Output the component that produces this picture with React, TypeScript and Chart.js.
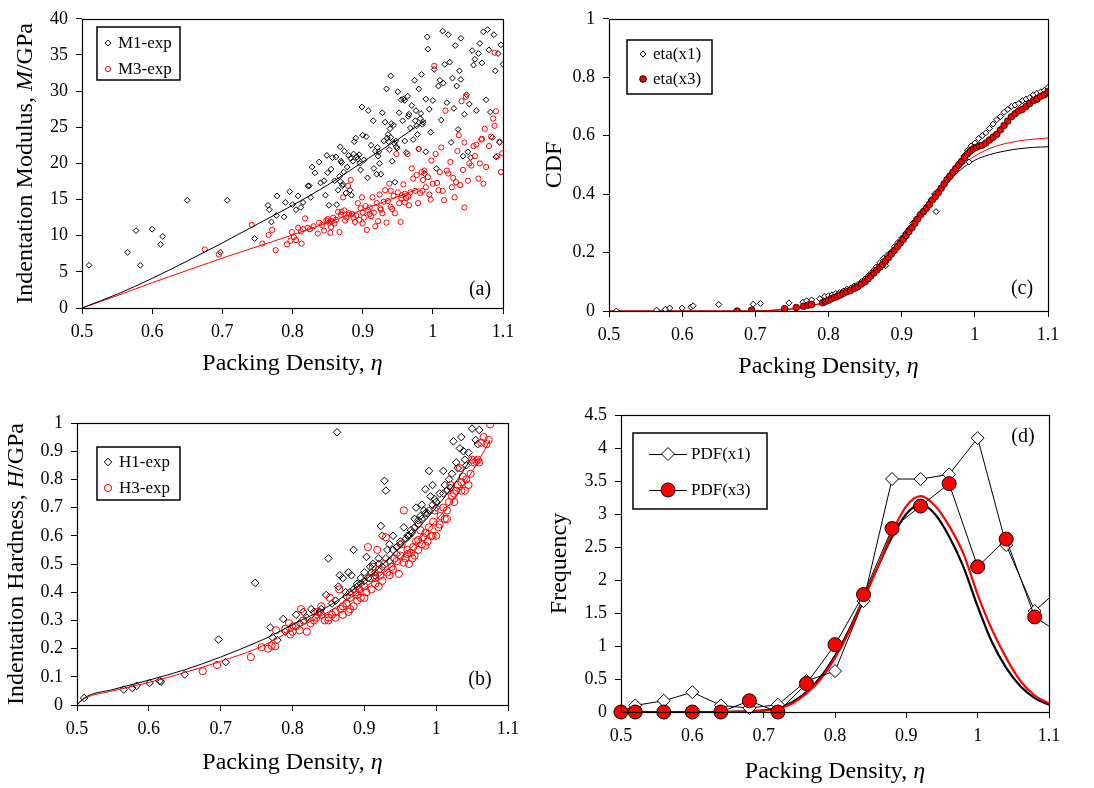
import React, { useEffect, useRef } from 'react';
import { Chart, registerables } from 'chart.js';
Chart.register(...registerables);

const FONT = '"Liberation Serif", "Times New Roman", serif';
type P = [number, number];

// ---------- shared ticks ----------
const xTicks = [0.5, 0.6, 0.7, 0.8, 0.9, 1.0, 1.1];
const xTickLabels = ['0.5', '0.6', '0.7', '0.8', '0.9', '1', '1.1'];
const yTicksA = [0, 5, 10, 15, 20, 25, 30, 35, 40];
const yLabelsA = ['0', '5', '10', '15', '20', '25', '30', '35', '40'];
const yTicksB = [0, 0.1, 0.2, 0.3, 0.4, 0.5, 0.6, 0.7, 0.8, 0.9, 1];
const yLabelsB = ['0', '0.1', '0.2', '0.3', '0.4', '0.5', '0.6', '0.7', '0.8', '0.9', '1'];
const yTicksC = [0, 0.2, 0.4, 0.6, 0.8, 1];
const yLabelsC = ['0', '0.2', '0.4', '0.6', '0.8', '1'];
const yTicksD = [0, 0.5, 1, 1.5, 2, 2.5, 3, 3.5, 4, 4.5];
const yLabelsD = ['0', '0.5', '1', '1.5', '2', '2.5', '3', '3.5', '4', '4.5'];

// ---------- (a) indentation modulus ----------
const m1Exp: P[] = [
  [0.51, 5.9], [0.565, 7.7], [0.577, 10.7], [0.583, 5.9], [0.6, 10.9], [0.612, 8.8], [0.615, 9.9], [0.65, 14.9],
  [0.697, 7.7], [0.707, 14.9], [0.746, 9.6], [0.765, 14.2], [0.767, 13.6], [0.77, 11.9], [0.777, 12.8], [0.778, 15.5],
  [0.788, 12.6], [0.79, 14.6], [0.796, 16.1], [0.8, 14.3], [0.805, 13.6], [0.808, 15.5], [0.812, 13.9], [0.815, 14.6],
  [0.822, 16.9], [0.824, 16.9], [0.826, 15.3], [0.828, 19.5], [0.832, 18.7], [0.838, 20.2], [0.84, 17.3], [0.845, 17.6],
  [0.847, 15.6], [0.849, 21.1], [0.85, 18.7], [0.852, 14.2], [0.855, 19.2], [0.857, 20.8], [0.86, 17.6], [0.863, 14.3],
  [0.865, 16.3], [0.867, 18.2], [0.868, 22.3], [0.87, 20.1], [0.872, 17.1], [0.874, 21.7], [0.876, 15.9], [0.878, 19.5],
  [0.88, 21.1], [0.882, 16.3], [0.884, 15.6], [0.886, 20.3], [0.888, 23.0], [0.89, 23.5], [0.892, 20.9], [0.895, 21.2],
  [0.897, 19.1], [0.899, 27.8], [0.9, 23.9], [0.902, 20.5], [0.905, 23.7], [0.907, 18.0], [0.908, 27.3], [0.912, 22.5],
  [0.915, 25.9], [0.916, 19.3], [0.918, 21.7], [0.92, 18.5], [0.922, 21.0], [0.924, 20.0], [0.926, 18.5], [0.928, 27.0],
  [0.93, 23.1], [0.932, 25.7], [0.934, 30.3], [0.936, 24.0], [0.938, 21.9], [0.94, 32.1], [0.94, 23.6], [0.942, 20.3],
  [0.944, 25.3], [0.946, 17.4], [0.948, 22.3], [0.95, 29.9], [0.952, 27.0], [0.955, 28.8], [0.957, 25.9], [0.96, 23.1],
  [0.962, 21.5], [0.964, 29.3], [0.966, 26.8], [0.968, 24.9], [0.97, 28.0], [0.972, 23.3], [0.974, 31.5], [0.976, 27.3],
  [0.978, 24.0], [0.98, 22.0], [0.98, 30.3], [0.982, 26.2], [0.984, 32.3], [0.986, 25.7], [0.988, 18.6], [0.99, 28.9],
  [0.99, 21.6], [0.992, 37.5], [0.993, 35.8], [0.995, 27.5], [0.997, 24.3], [1.0, 28.7], [1.002, 33.0], [1.005, 19.3],
  [1.008, 30.7], [1.01, 31.5], [1.012, 26.0], [1.014, 38.3], [1.015, 31.1], [1.017, 33.7], [1.02, 28.4], [1.022, 37.8],
  [1.024, 34.0], [1.026, 22.9], [1.028, 31.8], [1.03, 27.6], [1.032, 36.3], [1.034, 30.7], [1.036, 24.7], [1.038, 32.8],
  [1.04, 37.3], [1.04, 31.6], [1.043, 21.0], [1.045, 26.8], [1.048, 29.5], [1.05, 21.6], [1.052, 28.2], [1.054, 20.8],
  [1.056, 35.6], [1.058, 33.6], [1.06, 34.4], [1.062, 27.3], [1.065, 35.2], [1.067, 36.6], [1.07, 33.9], [1.072, 38.2],
  [1.076, 28.8], [1.078, 38.5], [1.08, 35.7], [1.082, 27.1], [1.085, 23.6], [1.087, 37.8], [1.089, 32.8], [1.09, 20.9],
  [1.093, 35.2], [1.095, 22.9], [1.097, 36.4], [1.1, 33.7],
  [0.883, 20.7], [0.887, 21.3], [0.893, 20.6], [0.896, 20.0], [0.921, 22.2], [0.923, 21.6], [0.945, 22.8], [0.947, 23.1],
  [0.949, 22.1], [0.975, 25.9], [0.977, 25.2], [0.983, 26.9], [0.985, 25.4], [0.958, 28.9], [0.96, 28.7], [0.965, 26.5],
  [0.935, 23.5], [0.937, 23.0], [0.939, 24.8], [0.941, 25.5], [0.868, 17.5], [0.871, 16.9], [0.873, 18.8], [0.862, 20.9],
  [0.869, 20.3],
];
const m3Exp: P[] = [
  [0.675, 8.1], [0.695, 7.4], [0.742, 11.5], [0.757, 8.9], [0.766, 10.1], [0.771, 10.8], [0.776, 8.0], [0.792, 8.8],
  [0.797, 9.3], [0.799, 10.5], [0.802, 9.8], [0.805, 9.4], [0.808, 11.1], [0.812, 10.6], [0.813, 8.9], [0.815, 10.9],
  [0.818, 12.4], [0.822, 11.1], [0.825, 10.9], [0.83, 11.3], [0.836, 10.3], [0.838, 11.8], [0.842, 11.5], [0.845, 10.7],
  [0.848, 12.1], [0.85, 12.3], [0.852, 11.8], [0.854, 10.4], [0.856, 12.0], [0.858, 12.5], [0.86, 11.7], [0.862, 12.2],
  [0.865, 13.3], [0.867, 10.5], [0.869, 12.9], [0.872, 15.3], [0.874, 13.5], [0.877, 12.5], [0.879, 16.9], [0.881, 13.1],
  [0.883, 17.7], [0.885, 13.0], [0.887, 12.5], [0.889, 11.9], [0.891, 12.8], [0.893, 14.5], [0.895, 12.2], [0.897, 13.8],
  [0.899, 15.3], [0.9, 13.2], [0.902, 12.5], [0.904, 14.1], [0.906, 10.8], [0.908, 13.5], [0.91, 13.9], [0.912, 12.7],
  [0.914, 15.3], [0.916, 13.2], [0.918, 11.3], [0.92, 14.5], [0.922, 12.0], [0.924, 15.7], [0.926, 13.6], [0.928, 13.1],
  [0.93, 14.7], [0.932, 16.3], [0.934, 11.8], [0.936, 14.8], [0.938, 17.2], [0.94, 16.2], [0.942, 13.7], [0.944, 15.5],
  [0.946, 13.1], [0.948, 21.3], [0.95, 16.0], [0.952, 14.5], [0.954, 11.9], [0.956, 15.6], [0.958, 17.1], [0.96, 14.6],
  [0.962, 15.2], [0.964, 21.3], [0.966, 14.2], [0.968, 16.0], [0.97, 19.3], [0.972, 17.9], [0.975, 16.2], [0.977, 18.4],
  [0.979, 14.5], [0.98, 22.0], [0.982, 15.9], [0.984, 18.8], [0.986, 17.7], [0.988, 19.0], [0.99, 16.7], [0.993, 18.1],
  [0.995, 15.7], [0.997, 15.0], [0.998, 20.4], [1.0, 17.2], [1.002, 33.5], [1.004, 21.3], [1.006, 17.3], [1.008, 16.3],
  [1.01, 18.8], [1.012, 22.2], [1.014, 16.2], [1.016, 14.9], [1.018, 27.3], [1.02, 19.0], [1.022, 18.6], [1.025, 20.2],
  [1.027, 16.7], [1.029, 18.0], [1.031, 15.3], [1.033, 17.4], [1.035, 21.7], [1.037, 23.9], [1.039, 17.0], [1.041, 28.6],
  [1.043, 19.1], [1.045, 22.9], [1.047, 29.2], [1.05, 17.6], [1.052, 20.0], [1.055, 19.7], [1.058, 22.4], [1.06, 21.0],
  [1.065, 17.9], [1.067, 20.0], [1.069, 23.3], [1.072, 17.2], [1.074, 24.8], [1.076, 19.5], [1.08, 22.4], [1.083, 23.7],
  [1.086, 26.2], [1.088, 25.2], [1.09, 27.2], [1.092, 21.0], [1.095, 23.0], [1.097, 18.8], [1.099, 21.4], [1.088, 35.3],
  [1.045, 13.9], [1.062, 22.6], [1.07, 23.4], [0.87, 13.3], [0.875, 12.1], [0.88, 12.9], [0.9, 11.7], [0.91, 13.0],
  [0.925, 13.8], [0.94, 14.0], [0.955, 15.2], [0.96, 15.8], [0.965, 15.4], [0.985, 16.2], [0.855, 11.2], [0.85, 12.0],
];
const m1Fit: P[] = [[0.5, 0], [0.55, 1.9], [0.6, 4.1], [0.65, 6.5], [0.7, 9.0], [0.75, 11.6], [0.8, 14.2], [0.85, 17.0], [0.9, 20.2], [0.95, 23.3], [0.99, 26.0]];
const m3Fit: P[] = [[0.5, 0], [0.55, 1.7], [0.6, 3.5], [0.65, 5.2], [0.7, 6.9], [0.75, 8.5], [0.8, 10.1], [0.85, 11.8], [0.9, 13.6], [0.95, 15.4], [0.98, 16.5]];

// ---------- (b) indentation hardness ----------
const h1Exp: P[] = [
  [0.51, 0.025], [0.565, 0.055], [0.577, 0.06], [0.583, 0.068], [0.601, 0.078], [0.615, 0.085], [0.617, 0.083], [0.65, 0.108],
  [0.697, 0.232], [0.707, 0.152], [0.748, 0.433], [0.769, 0.275], [0.772, 0.24], [0.779, 0.23], [0.787, 0.305], [0.805, 0.32],
  [0.815, 0.33], [0.826, 0.34], [0.838, 0.33], [0.847, 0.39], [0.85, 0.52], [0.855, 0.36], [0.862, 0.967], [0.864, 0.42],
  [0.866, 0.46], [0.87, 0.45], [0.874, 0.4], [0.878, 0.47], [0.882, 0.46], [0.885, 0.55], [0.89, 0.43], [0.895, 0.45],
  [0.9, 0.47], [0.903, 0.525], [0.908, 0.49], [0.912, 0.5], [0.915, 0.47], [0.92, 0.52], [0.923, 0.635], [0.925, 0.6],
  [0.928, 0.795], [0.93, 0.76], [0.932, 0.55], [0.935, 0.57], [0.94, 0.6], [0.945, 0.56], [0.95, 0.58], [0.955, 0.63],
  [0.958, 0.59], [0.962, 0.6], [0.966, 0.61], [0.97, 0.66], [0.972, 0.7], [0.975, 0.64], [0.978, 0.67], [0.98, 0.71],
  [0.983, 0.69], [0.985, 0.765], [0.988, 0.68], [0.99, 0.83], [0.992, 0.74], [0.995, 0.78], [0.998, 0.73], [1.0, 0.7],
  [1.005, 0.75], [1.01, 0.83], [1.012, 0.78], [1.015, 0.76], [1.018, 0.8], [1.022, 0.82], [1.024, 0.935], [1.028, 0.86],
  [1.03, 0.84], [1.033, 0.91], [1.035, 0.95], [1.038, 0.9], [1.04, 0.87], [1.042, 0.85], [1.045, 0.895], [1.05, 0.98],
  [1.055, 0.94], [1.058, 0.925], [1.06, 0.975],
  [0.86, 0.37], [0.875, 0.385], [0.88, 0.4], [0.89, 0.42], [0.9, 0.44], [0.91, 0.47], [0.92, 0.5], [0.93, 0.52],
  [0.94, 0.55], [0.95, 0.57], [0.96, 0.6], [0.97, 0.63], [0.98, 0.66], [0.985, 0.68], [0.99, 0.69], [0.995, 0.71],
  [1.0, 0.72], [1.01, 0.75], [1.02, 0.77], [0.965, 0.62], [0.975, 0.655], [0.945, 0.535], [0.935, 0.51], [0.925, 0.49],
  [0.915, 0.46], [0.905, 0.45], [0.895, 0.43], [0.885, 0.41], [0.84, 0.34], [0.83, 0.33], [0.82, 0.31], [0.81, 0.29],
  [0.8, 0.28], [0.79, 0.26],
];
const h3Exp: P[] = [
  [0.675, 0.12], [0.695, 0.142], [0.742, 0.17], [0.757, 0.205], [0.766, 0.2], [0.771, 0.21], [0.776, 0.208], [0.777, 0.265],
  [0.79, 0.27], [0.795, 0.29], [0.797, 0.25], [0.8, 0.26], [0.805, 0.28], [0.81, 0.265], [0.812, 0.34], [0.815, 0.3],
  [0.82, 0.26], [0.825, 0.29], [0.83, 0.3], [0.835, 0.33], [0.84, 0.32], [0.845, 0.3], [0.85, 0.31], [0.852, 0.38],
  [0.855, 0.32], [0.86, 0.33], [0.865, 0.41], [0.867, 0.34], [0.87, 0.35], [0.875, 0.36], [0.878, 0.33], [0.88, 0.38],
  [0.885, 0.35], [0.888, 0.4], [0.89, 0.39], [0.893, 0.41], [0.895, 0.38], [0.9, 0.42], [0.903, 0.4], [0.905, 0.56],
  [0.908, 0.45], [0.91, 0.41], [0.912, 0.49], [0.915, 0.43], [0.918, 0.55], [0.92, 0.42], [0.922, 0.46], [0.925, 0.44],
  [0.928, 0.5], [0.93, 0.595], [0.932, 0.47], [0.935, 0.46], [0.938, 0.49], [0.94, 0.48], [0.942, 0.52], [0.945, 0.51],
  [0.948, 0.465], [0.95, 0.53], [0.952, 0.57], [0.955, 0.69], [0.957, 0.52], [0.96, 0.55], [0.962, 0.5], [0.965, 0.54],
  [0.968, 0.56], [0.97, 0.53], [0.972, 0.58], [0.975, 0.55], [0.978, 0.62], [0.98, 0.57], [0.982, 0.595], [0.985, 0.61],
  [0.988, 0.58], [0.99, 0.63], [0.993, 0.6], [0.996, 0.65], [0.998, 0.69], [1.0, 0.6], [1.003, 0.63], [1.006, 0.67],
  [1.01, 0.7], [1.012, 0.66], [1.015, 0.69], [1.018, 0.72], [1.02, 0.78], [1.022, 0.74], [1.025, 0.72], [1.028, 0.76],
  [1.03, 0.78], [1.033, 0.84], [1.035, 0.79], [1.037, 0.81], [1.04, 0.76], [1.042, 0.8], [1.045, 0.78], [1.048, 0.82],
  [1.05, 0.87], [1.053, 0.86], [1.056, 0.865], [1.06, 0.86], [1.063, 0.93], [1.066, 0.95], [1.07, 0.925], [1.073, 0.94],
  [1.075, 0.995], [1.058, 0.87], [0.955, 0.505], [0.96, 0.535], [0.967, 0.52], [0.975, 0.585], [0.985, 0.565], [0.995, 0.6],
  [1.005, 0.64], [1.015, 0.66], [1.025, 0.75], [1.035, 0.76], [0.92, 0.48], [0.915, 0.45], [0.9, 0.38], [0.89, 0.37],
  [0.88, 0.34], [0.87, 0.32], [0.86, 0.31], [0.85, 0.3], [0.84, 0.35], [0.833, 0.31],
];
const h1Fit: P[] = [[0.5, 0], [0.51, 0.025], [0.55, 0.055], [0.6, 0.088], [0.65, 0.125], [0.7, 0.17], [0.75, 0.222], [0.77, 0.245], [0.8, 0.285], [0.85, 0.35], [0.9, 0.44], [0.95, 0.56], [1.0, 0.7], [1.03, 0.8], [1.05, 0.88]];
const h3Fit: P[] = [[0.5, 0], [0.51, 0.022], [0.55, 0.05], [0.6, 0.08], [0.65, 0.115], [0.7, 0.155], [0.75, 0.2], [0.8, 0.265], [0.85, 0.33], [0.9, 0.415], [0.95, 0.52], [1.0, 0.655], [1.03, 0.75], [1.06, 0.87], [1.075, 0.94]];

// ---------- (c) CDF ----------
const cdfX1: P[] = [
  [0.51, 0.0], [0.565, 0.003], [0.577, 0.006], [0.583, 0.01], [0.6, 0.01], [0.612, 0.013], [0.615, 0.018], [0.65, 0.022],
  [0.697, 0.023], [0.707, 0.026], [0.746, 0.028], [0.765, 0.03], [0.77, 0.035], [0.777, 0.038], [0.788, 0.042], [0.795, 0.05],
  [0.8, 0.052], [0.805, 0.055], [0.81, 0.06], [0.815, 0.063], [0.82, 0.068], [0.825, 0.075], [0.83, 0.078], [0.835, 0.085],
  [0.84, 0.09], [0.845, 0.1], [0.85, 0.11], [0.855, 0.122], [0.86, 0.135], [0.865, 0.15], [0.87, 0.165], [0.875, 0.18],
  [0.878, 0.155], [0.88, 0.19], [0.885, 0.2], [0.89, 0.22], [0.895, 0.235], [0.9, 0.25], [0.905, 0.265], [0.91, 0.28],
  [0.915, 0.3], [0.92, 0.315], [0.925, 0.33], [0.93, 0.345], [0.935, 0.36], [0.94, 0.38], [0.945, 0.4], [0.947, 0.34],
  [0.95, 0.41], [0.955, 0.425], [0.96, 0.44], [0.965, 0.455], [0.97, 0.47], [0.975, 0.49], [0.98, 0.51], [0.985, 0.53],
  [0.99, 0.55], [0.992, 0.51], [0.995, 0.565], [1.0, 0.575], [1.005, 0.59], [1.01, 0.6], [1.015, 0.61], [1.02, 0.625],
  [1.025, 0.64], [1.03, 0.655], [1.035, 0.665], [1.04, 0.68], [1.045, 0.69], [1.05, 0.7], [1.055, 0.705], [1.06, 0.71],
  [1.065, 0.72], [1.07, 0.725], [1.075, 0.73], [1.08, 0.74], [1.085, 0.745], [1.09, 0.75], [1.095, 0.755], [1.1, 0.765],
];
const cdfX3: P[] = [
  [0.675, 0.0], [0.695, 0.003], [0.74, 0.008], [0.756, 0.012], [0.766, 0.016], [0.772, 0.02], [0.777, 0.022], [0.792, 0.028],
  [0.796, 0.033], [0.8, 0.037], [0.804, 0.042], [0.808, 0.046], [0.812, 0.05], [0.816, 0.055], [0.82, 0.06], [0.825, 0.066],
  [0.83, 0.07], [0.836, 0.078], [0.84, 0.083], [0.845, 0.092], [0.85, 0.1], [0.854, 0.11], [0.858, 0.12], [0.862, 0.13],
  [0.866, 0.14], [0.87, 0.15], [0.874, 0.16], [0.878, 0.172], [0.882, 0.183], [0.886, 0.195], [0.89, 0.207], [0.894, 0.22],
  [0.898, 0.232], [0.902, 0.245], [0.906, 0.258], [0.91, 0.272], [0.914, 0.285], [0.918, 0.3], [0.922, 0.315], [0.926, 0.33],
  [0.93, 0.34], [0.934, 0.352], [0.938, 0.365], [0.942, 0.38], [0.946, 0.392], [0.95, 0.405], [0.954, 0.42], [0.958, 0.435],
  [0.962, 0.45], [0.966, 0.462], [0.97, 0.475], [0.974, 0.488], [0.978, 0.5], [0.982, 0.512], [0.986, 0.525], [0.99, 0.538],
  [0.994, 0.548], [0.998, 0.555], [1.002, 0.56], [1.006, 0.565], [1.01, 0.567], [1.015, 0.575], [1.02, 0.585], [1.025, 0.595],
  [1.03, 0.605], [1.035, 0.62], [1.04, 0.635], [1.045, 0.65], [1.05, 0.665], [1.055, 0.675], [1.06, 0.685], [1.065, 0.69],
  [1.07, 0.7], [1.075, 0.71], [1.08, 0.72], [1.085, 0.725], [1.09, 0.735], [1.095, 0.74], [1.1, 0.75],
];
const cdfFit1: P[] = [[0.5, 0], [0.6, 0], [0.7, 0], [0.72, 0.002], [0.74, 0.005], [0.76, 0.01], [0.78, 0.02], [0.8, 0.033], [0.82, 0.052], [0.84, 0.08], [0.86, 0.118], [0.88, 0.168], [0.9, 0.232], [0.92, 0.3], [0.94, 0.37], [0.96, 0.43], [0.98, 0.482], [1.0, 0.516], [1.02, 0.535], [1.04, 0.547], [1.06, 0.555], [1.08, 0.56], [1.1, 0.562]];
const cdfFit3: P[] = [[0.5, 0], [0.6, 0], [0.7, 0], [0.72, 0.002], [0.74, 0.005], [0.76, 0.01], [0.78, 0.02], [0.8, 0.033], [0.82, 0.052], [0.84, 0.08], [0.86, 0.118], [0.88, 0.168], [0.9, 0.232], [0.92, 0.3], [0.94, 0.372], [0.96, 0.437], [0.98, 0.492], [1.0, 0.53], [1.02, 0.556], [1.04, 0.572], [1.06, 0.582], [1.08, 0.588], [1.1, 0.592]];

// ---------- (d) PDF ----------
const pdfBins = [0.5, 0.52, 0.56, 0.6, 0.64, 0.68, 0.72, 0.76, 0.8, 0.84, 0.88, 0.92, 0.96, 1.0, 1.04, 1.08, 1.12];
const pdfX1 = [0, 0.1, 0.17, 0.3, 0.1, 0.06, 0.11, 0.47, 0.62, 1.68, 3.53, 3.53, 3.6, 4.15, 2.53, 1.53, 1.92];
const pdfX3 = [0, 0, 0, 0, 0, 0.17, 0, 0.43, 1.02, 1.78, 2.78, 3.12, 3.46, 2.2, 2.62, 1.44, 1.16];
const pdfFitEta = [0.5, 0.52, 0.54, 0.56, 0.58, 0.6, 0.62, 0.64, 0.66, 0.68, 0.7, 0.72, 0.74, 0.76, 0.78, 0.8, 0.82, 0.84, 0.86, 0.88, 0.9, 0.92, 0.94, 0.96, 0.98, 1.0, 1.02, 1.04, 1.06, 1.08, 1.1];
const pdfFit1 = [0, 0, 0, 0, 0, 0, 0, 0, 0.005, 0.01, 0.025, 0.06, 0.15, 0.3, 0.53, 0.85, 1.25, 1.72, 2.2, 2.65, 3.0, 3.15, 3.0, 2.66, 2.2, 1.6, 1.06, 0.67, 0.39, 0.21, 0.11];
const pdfFit3 = [0, 0, 0, 0, 0, 0, 0, 0, 0.003, 0.008, 0.02, 0.05, 0.13, 0.28, 0.5, 0.82, 1.22, 1.7, 2.2, 2.72, 3.12, 3.27, 3.13, 2.82, 2.4, 1.78, 1.25, 0.82, 0.47, 0.25, 0.13];

// ---------- helpers ----------
const pts = (a: P[]) => a.map(([x, y]) => ({ x, y }));
const zip = (xs: number[], ys: number[]) => xs.map((x, i) => ({ x, y: ys[i] }));

type Seg = { t: string; i?: boolean };
type LegendItem = { label: string; y: number; shape: 'diamond' | 'circle'; r: number; fill: string | null; stroke: string; mx: number; tx: number; line?: [number, number] };
type PanelCfg = {
  xTitle: Seg[]; yTitle: Seg[]; yTitleX: number; xTitleDy: number;
  legend: { x: number; y: number; w: number; h: number; items: LegendItem[] };
  tag: { text: string; x: number; y: number };
};

const TICK_SIZE = 18;
const TITLE_SIZE = 24;
const LEGEND_SIZE = 17;
const TAG_SIZE = 20;

function drawRich(ctx: CanvasRenderingContext2D, segs: Seg[], size: number, cx: number, cy: number) {
  const fonts = segs.map((s) => `${s.i ? 'italic ' : ''}${size}px ${FONT}`);
  let w = 0;
  const ws = segs.map((s, k) => { ctx.font = fonts[k]; const m = ctx.measureText(s.t).width; w += m; return m; });
  let x = cx - w / 2;
  ctx.textAlign = 'left';
  segs.forEach((s, k) => { ctx.font = fonts[k]; ctx.fillText(s.t, x, cy); x += ws[k]; });
}

function marker(ctx: CanvasRenderingContext2D, shape: string, x: number, y: number, r: number, fill: string | null, stroke: string) {
  ctx.beginPath();
  if (shape === 'diamond') { ctx.moveTo(x, y - r); ctx.lineTo(x + r, y); ctx.lineTo(x, y + r); ctx.lineTo(x - r, y); ctx.closePath(); }
  else ctx.arc(x, y, r, 0, Math.PI * 2);
  if (fill) { ctx.fillStyle = fill; ctx.fill(); }
  ctx.lineWidth = 1; ctx.strokeStyle = stroke; ctx.stroke();
}

const panelPlugin = {
  id: 'panel',
  afterDraw(chart: any, _a: any, cfg: PanelCfg) {
    const ctx: CanvasRenderingContext2D = chart.ctx;
    const a = chart.chartArea;
    ctx.save();
    // frame
    const l = Math.round(a.left) + 0.5, t = Math.round(a.top) + 0.5, r = Math.round(a.right) + 0.5, b = Math.round(a.bottom) + 0.5;
    ctx.strokeStyle = '#000'; ctx.lineWidth = 1.2;
    ctx.strokeRect(l, t, r - l, b - t);
    ctx.fillStyle = '#000';
    // x title
    ctx.textBaseline = 'alphabetic';
    drawRich(ctx, cfg.xTitle, TITLE_SIZE, (a.left + a.right) / 2, a.bottom + cfg.xTitleDy);
    // y title
    ctx.save();
    ctx.translate(cfg.yTitleX, (a.top + a.bottom) / 2);
    ctx.rotate(-Math.PI / 2);
    ctx.textBaseline = 'middle';
    drawRich(ctx, cfg.yTitle, TITLE_SIZE, 0, 0);
    ctx.restore();
    // legend
    const lg = cfg.legend;
    ctx.fillStyle = '#fff';
    ctx.fillRect(lg.x, lg.y, lg.w, lg.h);
    ctx.lineWidth = 1.5; ctx.strokeStyle = '#000';
    ctx.strokeRect(lg.x, lg.y, lg.w, lg.h);
    for (const it of lg.items) {
      if (it.line) {
        ctx.beginPath(); ctx.moveTo(it.line[0], it.y + 0.5); ctx.lineTo(it.line[1], it.y + 0.5);
        ctx.lineWidth = 1; ctx.strokeStyle = '#000'; ctx.stroke();
      }
      marker(ctx, it.shape, it.mx, it.y, it.r, it.fill, it.stroke);
      ctx.fillStyle = '#000';
      ctx.font = `${LEGEND_SIZE}px ${FONT}`;
      ctx.textAlign = 'left'; ctx.textBaseline = 'middle';
      ctx.fillText(it.label, it.tx, it.y + 1);
    }
    // tag
    ctx.font = `${TAG_SIZE}px ${FONT}`;
    ctx.fillStyle = '#000'; ctx.textAlign = 'center'; ctx.textBaseline = 'middle';
    ctx.fillText(cfg.tag.text, cfg.tag.x, cfg.tag.y);
    ctx.restore();
  },
};

function axis(pos: 'left' | 'bottom', min: number, max: number, ticks: number[], labels: string[], size: number) {
  return {
    type: 'linear', position: pos, min, max,
    afterBuildTicks: (s: any) => { s.ticks = ticks.map((v) => ({ value: v })); },
    afterFit: (s: any) => { if (pos === 'left') s.width = size; else s.height = size; },
    ticks: {
      callback: (_v: any, i: number) => labels[i],
      font: { family: FONT, size: TICK_SIZE }, color: '#000',
      padding: pos === 'left' ? 8 : 7, maxRotation: 0, autoSkip: false,
    },
    grid: { drawOnChartArea: false, drawTicks: true, tickLength: 6, color: '#000', lineWidth: 1 },
    border: { display: false },
  };
}

function makeConfig(o: {
  datasets: any[]; yMin: number; yMax: number; yTicks: number[]; yLabels: string[];
  yWidth: number; xHeight: number; padTop: number; padRight: number; panel: PanelCfg;
}) {
  return {
    type: 'scatter',
    data: { datasets: o.datasets },
    options: {
      responsive: false, animation: false, devicePixelRatio: 1, events: [],
      layout: { padding: { left: 0, top: o.padTop, right: o.padRight, bottom: 0 } },
      plugins: { legend: { display: false }, tooltip: { enabled: false }, panel: o.panel },
      scales: {
        x: axis('bottom', 0.5, 1.1, xTicks, xTickLabels, o.xHeight),
        y: axis('left', o.yMin, o.yMax, o.yTicks, o.yLabels, o.yWidth),
      },
    },
    plugins: [panelPlugin],
  } as any;
}

const blackDiamonds = (data: P[], r: number, fill = 'rgba(0,0,0,0)') => ({
  data: pts(data), pointStyle: 'rectRot', pointRadius: r, borderColor: '#000', backgroundColor: fill, borderWidth: 1, showLine: false,
});
const redCircles = (data: P[], r: number) => ({
  data: pts(data), pointStyle: 'circle', pointRadius: r, borderColor: '#ff0000', backgroundColor: 'rgba(0,0,0,0)', borderWidth: 1, showLine: false,
});
const fitLine = (data: { x: number; y: number }[], color: string, w = 1) => ({
  data, showLine: true, pointRadius: 0, borderColor: color, borderWidth: w, cubicInterpolationMode: 'monotone', fill: false,
});

const xTitle: Seg[] = [{ t: 'Packing Density, ' }, { t: 'η', i: true }];

const configA = () => makeConfig({
  datasets: [
    fitLine(pts(m1Fit), '#000'), fitLine(pts(m3Fit), '#ff0000'),
    redCircles(m3Exp, 2.6), blackDiamonds(m1Exp, 2.9),
  ],
  yMin: 0, yMax: 40, yTicks: yTicksA, yLabels: yLabelsA,
  yWidth: 82, xHeight: 86, padTop: 13, padRight: 37,
  panel: {
    xTitle, yTitle: [{ t: 'Indentation Modulus, ' }, { t: 'M', i: true }, { t: '/GPa' }], yTitleX: 26, xTitleDy: 62,
    legend: {
      x: 97, y: 27, w: 83, h: 53, items: [
        { label: 'M1-exp', y: 43, shape: 'diamond', r: 2.9, fill: null, stroke: '#000', mx: 108, tx: 118 },
        { label: 'M3-exp', y: 69, shape: 'circle', r: 2.6, fill: null, stroke: '#ff0000', mx: 108, tx: 118 },
      ],
    },
    tag: { text: '(a)', x: 480, y: 290 },
  },
});

const configB = () => makeConfig({
  datasets: [
    fitLine(pts(h1Fit), '#000'), fitLine(pts(h3Fit), '#ff0000'),
    redCircles(h3Exp, 3.6), blackDiamonds(h1Exp, 3.8),
  ],
  yMin: 0, yMax: 1, yTicks: yTicksB, yLabels: yLabelsB,
  yWidth: 77, xHeight: 83, padTop: 29, padRight: 32,
  panel: {
    xTitle, yTitle: [{ t: 'Indentation Hardness, ' }, { t: 'H', i: true }, { t: '/GPa' }], yTitleX: 17, xTitleDy: 64,
    legend: {
      x: 97, y: 53, w: 83, h: 53, items: [
        { label: 'H1-exp', y: 68, shape: 'diamond', r: 3.8, fill: null, stroke: '#000', mx: 108, tx: 119 },
        { label: 'H3-exp', y: 94, shape: 'circle', r: 3.6, fill: null, stroke: '#ff0000', mx: 108, tx: 119 },
      ],
    },
    tag: { text: '(b)', x: 480, y: 286 },
  },
});

const configC = () => makeConfig({
  datasets: [
    { ...redCircles(cdfX3, 3.3), backgroundColor: '#ff0000', borderColor: '#000', borderWidth: 0.8 },
    blackDiamonds(cdfX1, 3, '#fff'),
    fitLine(pts(cdfFit3), '#ff0000'), fitLine(pts(cdfFit1), '#000'),
  ],
  yMin: 0, yMax: 1, yTicks: yTicksC, yLabels: yLabelsC,
  yWidth: 69, xHeight: 83, padTop: 10, padRight: 46,
  panel: {
    xTitle, yTitle: [{ t: 'CDF' }], yTitleX: 15, xTitleDy: 62,
    legend: {
      x: 87, y: 40, w: 85, h: 54, items: [
        { label: 'eta(x1)', y: 54, shape: 'diamond', r: 3, fill: '#fff', stroke: '#000', mx: 103, tx: 113 },
        { label: 'eta(x3)', y: 79, shape: 'circle', r: 3.3, fill: '#ff0000', stroke: '#000', mx: 103, tx: 113 },
      ],
    },
    tag: { text: '(c)', x: 482, y: 289 },
  },
});

const pdfClip = { left: 10, top: 10, right: 0, bottom: 10 };
const configD = () => makeConfig({
  datasets: [
    {
      data: zip(pdfBins, pdfX3), showLine: true, borderColor: '#000', borderWidth: 1, pointStyle: 'circle', pointRadius: 7,
      pointBackgroundColor: '#ff0000', pointBorderColor: '#000', pointBorderWidth: 1, clip: pdfClip,
    },
    {
      data: zip(pdfBins, pdfX1), showLine: true, borderColor: '#000', borderWidth: 1, pointStyle: 'rectRot', pointRadius: 6.5,
      pointBackgroundColor: '#fff', pointBorderColor: '#000', pointBorderWidth: 1, clip: pdfClip,
    },
    { ...fitLine(zip(pdfFitEta, pdfFit3), '#ff0000', 2.2), clip: pdfClip },
    { ...fitLine(zip(pdfFitEta, pdfFit1), '#000', 2.2), clip: pdfClip },
  ],
  yMin: 0, yMax: 4.5, yTicks: yTicksD, yLabels: yLabelsD,
  yWidth: 81, xHeight: 76, padTop: 21, padRight: 45,
  panel: {
    xTitle, yTitle: [{ t: 'Frequency' }], yTitleX: 20, xTitleDy: 66,
    legend: {
      x: 93, y: 39, w: 134, h: 76, items: [
        { label: 'PDF(x1)', y: 60, shape: 'diamond', r: 6.5, fill: '#fff', stroke: '#000', mx: 128, tx: 151, line: [109, 147] },
        { label: 'PDF(x3)', y: 96, shape: 'circle', r: 7, fill: '#ff0000', stroke: '#000', mx: 128, tx: 151, line: [109, 147] },
      ],
    },
    tag: { text: '(d)', x: 483, y: 43 },
  },
});

function Panel({ left, top, width, height, make }: { left: number; top: number; width: number; height: number; make: () => any }) {
  const ref = useRef<HTMLCanvasElement>(null);
  useEffect(() => {
    const chart = new Chart(ref.current as HTMLCanvasElement, make());
    return () => chart.destroy();
  }, []);
  return <canvas ref={ref} width={width} height={height} style={{ position: 'fixed', left, top, width, height, display: 'block' }} />;
}

export default function App() {
  return (
    <div style={{ position: 'fixed', left: 0, top: 0, width: 1094, height: 788, background: '#fff' }}>
      <Panel left={0} top={0} width={540} height={394} make={configA} />
      <Panel left={540} top={0} width={554} height={394} make={configC} />
      <Panel left={0} top={394} width={540} height={394} make={configB} />
      <Panel left={540} top={394} width={554} height={394} make={configD} />
    </div>
  );
}
